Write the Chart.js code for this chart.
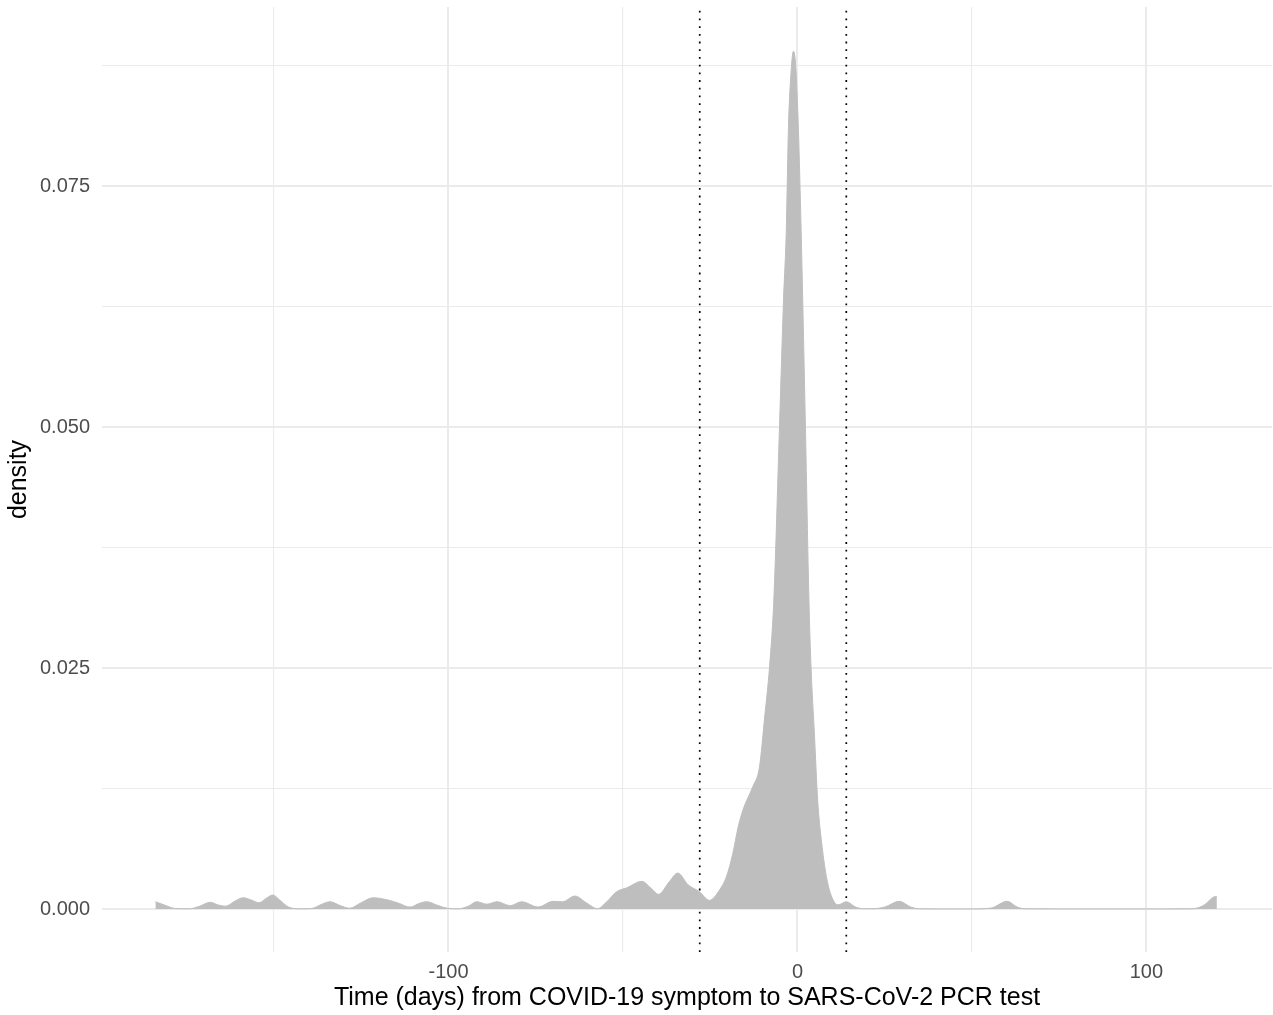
<!DOCTYPE html>
<html lang="en">
<head>
    <meta charset="UTF-8">
    <title>Density of time from symptom to PCR test</title>
    <script src="https://cdn.jsdelivr.net/npm/chart.js"></script>
    <style>
        html, body {
            margin: 0;
            padding: 0;
            background: #ffffff;
        }
        #chart-container {
            width: 1273px;
            height: 1015px;
        }
    </style>
</head>
<body>
    <div id="chart-container">
        <canvas id="myChart" width="1273" height="1015"></canvas>
    </div>

    <script>
        // density curve (days, density)
        const days = [
            -184, -181.3, -178.3, -174.3, -171.3, -168.3, -165.8, -163.8, -161.3, -158.8,
            -156.3, -154.3, -152.3, -150.3, -148.3, -145.8, -142.3, -139.3, -136.3, -133.9,
            -131.3, -128.3, -125.3, -121.6, -117.3, -114.3, -111, -108.3, -106.2, -103.3,
            -100.3, -97.3, -94.3, -91.9, -89, -86.1, -82.3, -79, -74.3, -70.1,
            -67.3, -63.8, -60.3, -57.3, -54.8, -51.8, -48.9, -44.6, -41.8, -39.8,
            -36.8, -34.3, -31.3, -28.1, -25.2, -22.3, -20.4, -18.5, -17.0, -15.6,
            -12.8, -10.9, -9.4, -8.0, -6.78, -5.15, -4.0, -3.2, -2.6, -1.8,
            -1.15, -0.5, 0.29, 1.06, 1.52, 2.29, 3.3, 3.9, 4.86, 5.8,
            7.2, 8.66, 10.6, 11.8, 14, 16.7, 19, 21.4, 25, 29.2,
            32.5, 35, 40, 50, 55.5, 60.1, 63, 65.5, 75, 90,
            105, 113, 116.5, 119.3, 120.2
        ];
        const density = [
            0.00076, 0.0004, 0.00005, 0.00002, 0.0003, 0.0007, 0.0004, 0.0003, 0.0008, 0.00117,
            0.0009, 0.00065, 0.0011, 0.00145, 0.0009, 0.0002, 0.00002, 0.00005, 0.0005, 0.00076,
            0.0004, 0.00008, 0.0006, 0.00117, 0.00093, 0.0006, 0.0002, 0.0006, 0.00076, 0.0004,
            0.00008, 0.00002, 0.0003, 0.00076, 0.0005, 0.00076, 0.00035, 0.00076, 0.0002, 0.0008,
            0.00075, 0.00135, 0.0006, 0.00003, 0.0007, 0.0018, 0.0022, 0.00287, 0.0021, 0.00152,
            0.0028, 0.00373, 0.0025, 0.0018, 0.0009, 0.002, 0.0033, 0.0058, 0.0085, 0.0103,
            0.0127, 0.0147, 0.0199, 0.0251, 0.032, 0.050, 0.0631, 0.0704, 0.0808, 0.087,
            0.089, 0.0875, 0.0808, 0.0704, 0.0631, 0.050, 0.032, 0.0251, 0.0182, 0.0113,
            0.0061, 0.0027, 0.0007, 0.00045, 0.00076, 0.0002, 0.00003, 0.00003, 0.0002, 0.0008,
            0.0002, 0.00002, 0.00001, 0.00001, 0.0001, 0.0008, 0.0002, 0.00002, 0.00001, 0.00001,
            0.00001, 0.00002, 0.0004, 0.00125, 0.0013
        ];

        // dotted reference lines (days)
        const refLines = [-28, 14];

        // axis ranges and ticks
        const xMin = -199.3, xMax = 136;
        const yMin = -0.00446, yMax = 0.0936;
        const xTicks = [-150, -100, -50, 0, 50, 100];
        const xMajor = [-100, 0, 100];
        const yTicks = [0, 0.0125, 0.025, 0.0375, 0.05, 0.0625, 0.075, 0.0875];
        const yMajor = [0, 0.025, 0.05, 0.075];

        const gridColor = '#EBEBEB';
        const tickColor = '#4D4D4D';
        const fontFamily = '"Liberation Sans", Arial, sans-serif';

        const isMajor = (list, v) => list.some(m => Math.abs(m - v) < 1e-9);

        const datasets = [{
            label: 'density',
            data: days.map((d, i) => ({ x: d, y: density[i] })),
            backgroundColor: '#BEBEBE',
            borderColor: '#BEBEBE',
            borderWidth: 1,
            fill: 'origin',
            pointRadius: 0,
            cubicInterpolationMode: 'monotone'
        }];

        refLines.forEach(d => {
            datasets.push({
                label: 'ref ' + d,
                data: [{ x: d, y: yMin }, { x: d, y: yMax }],
                borderColor: '#000000',
                borderWidth: 1.7,
                borderDash: [1.8, 5.9],
                pointRadius: 0,
                fill: false
            });
        });

        const ctx = document.getElementById('myChart').getContext('2d');
        new Chart(ctx, {
            type: 'line',
            data: { datasets: datasets },
            options: {
                responsive: false,
                animation: false,
                layout: { padding: { top: 7, right: 1, left: 0, bottom: 0 } },
                plugins: {
                    legend: { display: false },
                    tooltip: { enabled: false }
                },
                scales: {
                    x: {
                        type: 'linear',
                        min: xMin,
                        max: xMax,
                        afterBuildTicks: s => { s.ticks = xTicks.map(v => ({ value: v })); },
                        afterFit: s => {
                            s.height = 63;
                            s.paddingLeft = 0;
                            s.paddingRight = 0;
                        },
                        border: { display: false },
                        grid: {
                            color: gridColor,
                            drawTicks: false,
                            lineWidth: c => isMajor(xMajor, c.tick.value) ? 2 : 1.1
                        },
                        ticks: {
                            autoSkip: false,
                            maxRotation: 0,
                            padding: 8,
                            color: tickColor,
                            font: { family: fontFamily, size: 20 },
                            callback: v => isMajor(xMajor, v) ? String(v) : ''
                        },
                        title: {
                            display: true,
                            text: 'Time (days) from COVID-19 symptom to SARS-CoV-2 PCR test',
                            color: '#000000',
                            font: { family: fontFamily, size: 25 },
                            padding: { top: 0, bottom: 2 }
                        }
                    },
                    y: {
                        type: 'linear',
                        min: yMin,
                        max: yMax,
                        afterBuildTicks: s => { s.ticks = yTicks.map(v => ({ value: v })); },
                        afterFit: s => {
                            s.width = 102;
                            s.paddingTop = 0;
                            s.paddingBottom = 0;
                        },
                        border: { display: false },
                        grid: {
                            color: gridColor,
                            drawTicks: false,
                            lineWidth: c => isMajor(yMajor, c.tick.value) ? 2 : 1.1
                        },
                        ticks: {
                            autoSkip: false,
                            padding: 12,
                            color: tickColor,
                            font: { family: fontFamily, size: 20 },
                            callback: v => isMajor(yMajor, v) ? v.toFixed(3) : ''
                        },
                        title: {
                            display: true,
                            text: 'density',
                            color: '#000000',
                            font: { family: fontFamily, size: 25 },
                            padding: { top: 4, bottom: 0 }
                        }
                    }
                }
            }
        });
    </script>
</body>
</html>
